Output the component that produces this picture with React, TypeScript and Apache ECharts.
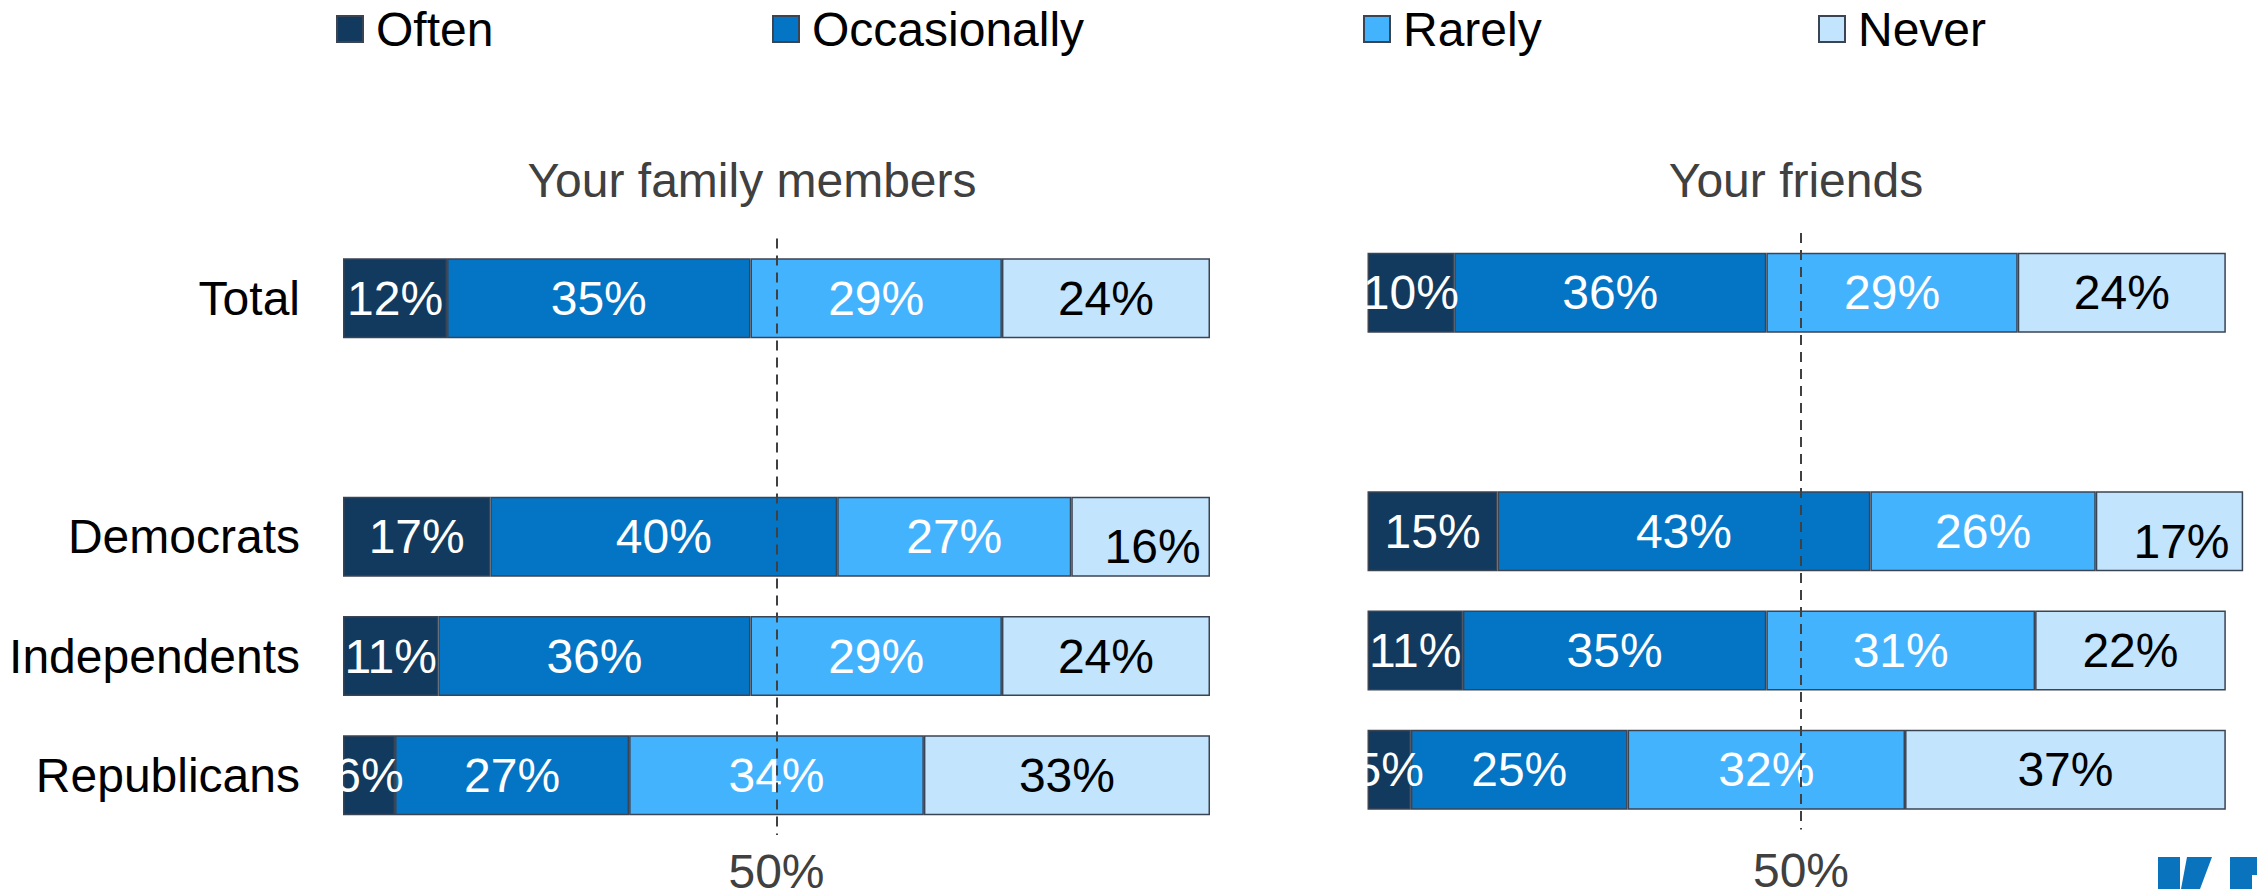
import React, { useEffect, useRef } from "react";
import * as echarts from "echarts";

const categories = ["Total", "", "Democrats", "Independents", "Republicans"];
const seriesNames = ["Often", "Occasionally", "Rarely", "Never"];
const seriesColors = ["#123a5e", "#0474c4", "#44b3fe", "#c2e4fd"];
const labelColors = ["#ffffff", "#ffffff", "#ffffff", "#000000"];

const familyOften = [12, null, 17, 11, 6];
const familyOccasionally = [35, null, 40, 36, 27];
const familyRarely = [29, null, 27, 29, 34];
const familyNever = [24, null, 16, 24, 33];

const friendsOften = [10, null, 15, 11, 5];
const friendsOccasionally = [36, null, 43, 35, 25];
const friendsRarely = [29, null, 26, 31, 32];
const friendsNever = [24, null, 17, 22, 37];

const panelTitles = ["Your family members", "Your friends"];
const referenceTick = 50;

const FONT = "'Liberation Sans', Arial, sans-serif";
const FS = 48;

export default function App() {
  const ref = useRef<HTMLDivElement>(null);

  useEffect(() => {
    document.body.style.margin = "0";
    if (!ref.current) return;
    const chart = echarts.init(ref.current, null, { renderer: "svg" });

    const panels = [
      { data: [familyOften, familyOccasionally, familyRarely, familyNever], stack: "family" },
      { data: [friendsOften, friendsOccasionally, friendsRarely, friendsNever], stack: "friends" },
    ];

    const grids = [
      { left: 343, top: 238.5, width: 867, height: 596.5, outerBoundsMode: "none", containLabel: false },
      { left: 1367.5, top: 233, width: 867, height: 596.5, outerBoundsMode: "none", containLabel: false },
    ];
    const xLabelMargins = [12, 17];

    const series: any[] = [];
    panels.forEach((p, pi) => {
      p.data.forEach((arr, si) => {
        const s: any = {
          type: "bar",
          name: seriesNames[si],
          stack: p.stack,
          xAxisIndex: pi,
          yAxisIndex: pi,
          barWidth: 80,
          clip: false,
          itemStyle: {
            color: seriesColors[si],
            borderColor: "#3b4453",
            borderWidth: 1.5,
          },
          label: {
            show: true,
            position: "inside",
            formatter: "{c}%",
            fontSize: FS,
            fontFamily: FONT,
            color: labelColors[si],
          },
          data: arr.map((v, ci) => {
            if (v === null) return "-";
            if (si === 3 && categories[ci] === "Democrats") {
              return { value: v, label: { offset: [12, 10] } };
            }
            return v;
          }),
        };
        if (si === 3) {
          s.markLine = {
            silent: true,
            symbol: "none",
            z: 10,
            label: { show: false },
            lineStyle: { type: [10, 7], color: "#404040", width: 2 },
            data: [{ xAxis: referenceTick }],
          };
        }
        series.push(s);
      });
    });

    const legendLefts = [336, 772, 1363, 1818];

    const option: any = {
      animation: false,
      textStyle: { fontFamily: FONT },
      legend: seriesNames.map((n, i) => ({
        data: [n],
        left: legendLefts[i],
        top: 5,
        padding: 0,
        itemWidth: 26,
        itemHeight: 26,
        icon: "rect",
        selectedMode: false,
        textStyle: { fontSize: FS, color: "#000", fontFamily: FONT, padding: [0, 0, 0, 8] },
      })),
      grid: grids,
      xAxis: grids.map((_, i) => ({
        type: "value",
        gridIndex: i,
        min: 0,
        max: 100,
        interval: referenceTick,
        axisLine: { show: false },
        axisTick: { show: false },
        splitLine: { show: false },
        axisLabel: {
          formatter: (v: number) => (v === referenceTick ? referenceTick + "%" : ""),
          fontSize: FS,
          color: "#404040",
          fontFamily: FONT,
          margin: xLabelMargins[i],
        },
      })),
      yAxis: grids.map((_, i) => ({
        type: "category",
        gridIndex: i,
        inverse: true,
        data: categories,
        axisLine: { show: false },
        axisTick: { show: false },
        axisLabel: {
          show: i === 0,
          fontSize: FS,
          color: "#000",
          fontFamily: FONT,
          margin: 43,
        },
      })),
      graphic: [
        {
          type: "text",
          x: 752,
          y: 180,
          style: {
            text: panelTitles[0],
            font: `${FS}px ${FONT}`,
            fill: "#404040",
            align: "center",
            verticalAlign: "middle",
            textAlign: "center",
            textVerticalAlign: "middle",
          },
        },
        {
          type: "text",
          x: 1796,
          y: 180,
          style: {
            text: panelTitles[1],
            font: `${FS}px ${FONT}`,
            fill: "#404040",
            align: "center",
            verticalAlign: "middle",
            textAlign: "center",
            textVerticalAlign: "middle",
          },
        },
        {
          type: "polygon",
          shape: { points: [[2158, 857], [2180, 857], [2180, 889], [2158, 889]] },
          style: { fill: "#0a73be" },
        },
        {
          type: "polygon",
          shape: { points: [[2187, 857], [2212, 857], [2200, 889], [2181, 889]] },
          style: { fill: "#0a73be" },
        },
        {
          type: "polygon",
          shape: {
            points: [[2230, 857], [2257, 857], [2257, 875], [2252, 875], [2252, 889], [2230, 889]],
          },
          style: { fill: "#0a73be" },
        },
      ],
      series,
    };

    chart.setOption(option);
    return () => chart.dispose();
  }, []);

  return <div ref={ref} style={{ width: 2257, height: 889 }} />;
}
